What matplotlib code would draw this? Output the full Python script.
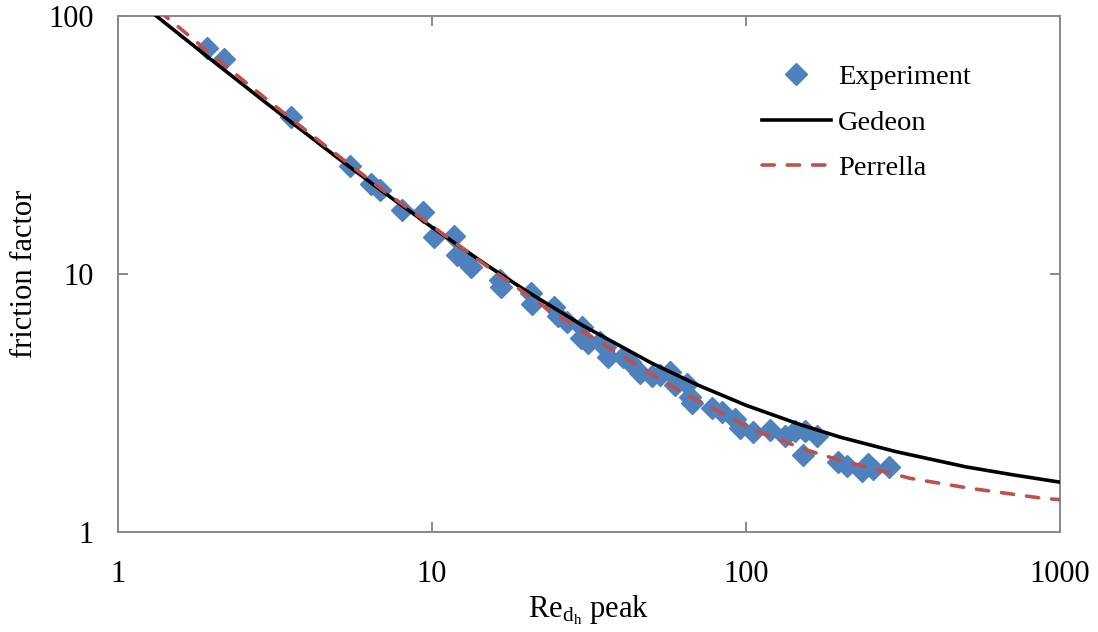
import matplotlib
matplotlib.use("Agg")
import matplotlib.pyplot as plt

plt.rcParams["font.family"] = ["Liberation Serif", "DejaVu Serif"]
plt.rcParams["mathtext.fontset"] = "custom"
plt.rcParams["mathtext.rm"] = "Liberation Serif"
plt.rcParams["mathtext.it"] = "Liberation Serif:italic"

# Measured points
exp_re = [1.92, 2.18, 3.56, 5.49, 6.40, 6.84, 8.04, 9.38, 10.16, 11.77,
          12.03, 12.76, 13.33, 16.49, 16.61, 20.70, 20.85, 24.50, 25.22, 26.94,
          30.08, 29.90, 31.43, 34.31, 35.6, 36.4, 40.6, 42.8, 46.0, 50.2,
          53.3, 57.3, 59.5, 64.9, 66.4, 67.3, 78.0, 83.9, 92.3, 95.8,
          105.3, 119.3, 133.2, 143.3, 154.2, 168.4, 152.0, 196.5, 209.9, 234.2,
          244.7, 253.8, 285.5]
exp_f = [75.2, 68.1, 40.6, 26.2, 22.33, 21.16, 17.71, 17.39, 13.91, 14.04,
         11.85, 11.33, 10.64, 9.48, 8.90, 8.44, 7.65, 7.45, 6.87, 6.52,
         6.23, 5.65, 5.40, 5.45, 5.21, 4.77, 4.77, 4.56, 4.13, 4.02,
         4.06, 4.17, 3.71, 3.75, 3.34, 3.16, 3.02, 2.92, 2.74, 2.53,
         2.44, 2.48, 2.36, 2.46, 2.46, 2.36, 1.99, 1.87, 1.80, 1.72,
         1.83, 1.75, 1.79]

# Gedeon correlation curve
gedeon_re = [1.3, 1.5, 2, 3, 5, 7, 10, 15, 20, 30, 50, 70, 100, 150, 200,
             300, 500, 700, 1000]
gedeon_f = [102.1, 88.8, 67.2, 45.6, 28.27, 20.81, 15.2, 10.80, 8.59, 6.35,
            4.52, 3.72, 3.10, 2.60, 2.33, 2.05, 1.79, 1.67, 1.56]

# Perrella correlation curve
perrella_re = [1.35, 1.58, 2, 3, 4.63, 7, 10.6, 15, 23.2, 35, 50, 64.8, 75,
               105.6, 156, 190, 333, 517, 885, 1000]
perrella_f = [104.8, 89.6, 70.5, 47.2, 31.1, 21.1, 14.6, 10.7, 7.36, 5.36,
              4.1, 3.40, 3.11, 2.485, 2.08, 1.93, 1.615, 1.477, 1.35, 1.335]

x_ticks = [1, 10, 100, 1000]
y_ticks = [1, 10, 100]

fig = plt.figure(figsize=(10.98, 6.32), dpi=100)
ax = fig.add_axes([0.1072, 0.1582, 0.8582, 0.8165])

ax.plot(exp_re, exp_f, linestyle="none", marker="D", markersize=11,
        color="#4F81BD", label="Experiment", zorder=2)
ax.plot(gedeon_re, gedeon_f, color="black", linewidth=2.6, label="Gedeon",
        zorder=3)
ax.plot(perrella_re, perrella_f, color="#C0504D", linewidth=2.6,
        linestyle=(0, (3.4, 3.6)), dash_capstyle="round", label="Perrella",
        zorder=4)

ax.set_xscale("log")
ax.set_yscale("log")
ax.set_xlim(1, 1000)
ax.set_ylim(1, 100)
ax.set_xticks(x_ticks)
ax.set_xticklabels([str(v) for v in x_ticks])
ax.set_yticks(y_ticks)
ax.set_yticklabels([str(v) for v in y_ticks])
ax.minorticks_off()

for s in ax.spines.values():
    s.set_color("#898989")
    s.set_linewidth(1.4)
ax.tick_params(axis="both", which="major", direction="in", length=7,
               width=1.4, color="#898989", labelsize=22, top=True, right=True,
               labelcolor="black")
ax.tick_params(axis="x", pad=20)
ax.tick_params(axis="y", pad=17)

ax.set_xlabel(r"Re$_{\mathrm{d_h}}$ peak", fontsize=22, labelpad=3)
ax.set_ylabel("friction factor", fontsize=22, labelpad=7)

leg = ax.legend(loc="upper right", bbox_to_anchor=(0.917, 0.928), frameon=False,
                fontsize=20.5, handlelength=2.4, handletextpad=0.25,
                labelspacing=0.68, borderaxespad=0)

fig.savefig("out.png", dpi=100)
